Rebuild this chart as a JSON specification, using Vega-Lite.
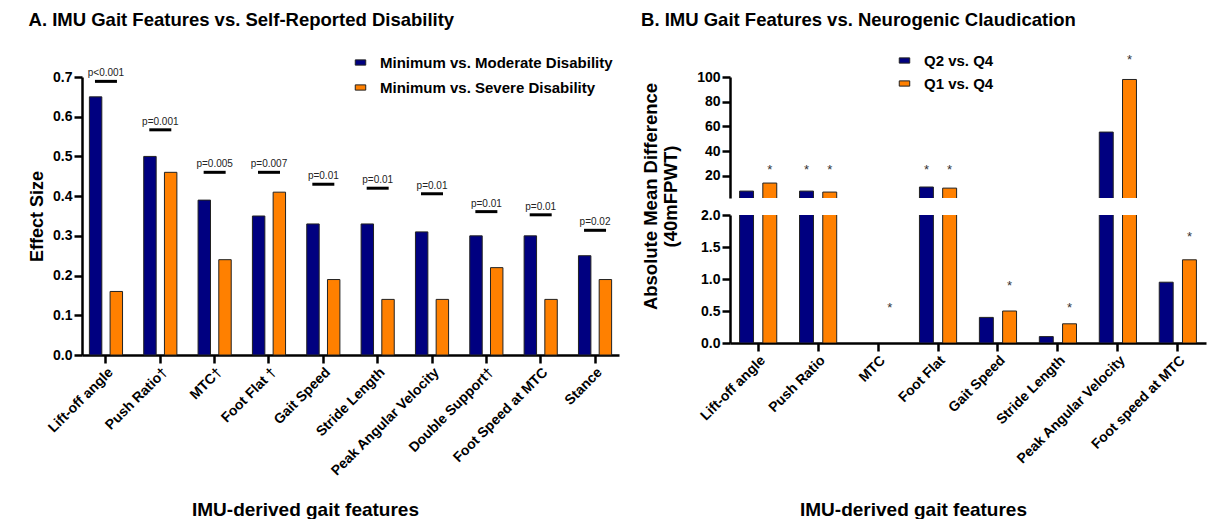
{
  "$schema": "https://vega.github.io/schema/vega-lite/v6.json",
  "background": "white",
  "padding": {"left": 28, "top": 10, "right": 5, "bottom": 0},
  "spacing": 22,
  "resolve": {"scale": {"x": "independent", "y": "independent", "color": "independent", "xOffset": "independent"}, "legend": {"color": "independent"}},
  "datasets": {
    "a": [
      {"feature": "Lift-off angle", "cmp": "Minimum vs. Moderate Disability", "v": 0.65},
      {"feature": "Lift-off angle", "cmp": "Minimum vs. Severe Disability", "v": 0.16},
      {"feature": "Push Ratio†", "cmp": "Minimum vs. Moderate Disability", "v": 0.50},
      {"feature": "Push Ratio†", "cmp": "Minimum vs. Severe Disability", "v": 0.46},
      {"feature": "MTC†", "cmp": "Minimum vs. Moderate Disability", "v": 0.39},
      {"feature": "MTC†", "cmp": "Minimum vs. Severe Disability", "v": 0.24},
      {"feature": "Foot Flat †", "cmp": "Minimum vs. Moderate Disability", "v": 0.35},
      {"feature": "Foot Flat †", "cmp": "Minimum vs. Severe Disability", "v": 0.41},
      {"feature": "Gait Speed", "cmp": "Minimum vs. Moderate Disability", "v": 0.33},
      {"feature": "Gait Speed", "cmp": "Minimum vs. Severe Disability", "v": 0.19},
      {"feature": "Stride Length", "cmp": "Minimum vs. Moderate Disability", "v": 0.33},
      {"feature": "Stride Length", "cmp": "Minimum vs. Severe Disability", "v": 0.14},
      {"feature": "Peak Angular Velocity", "cmp": "Minimum vs. Moderate Disability", "v": 0.31},
      {"feature": "Peak Angular Velocity", "cmp": "Minimum vs. Severe Disability", "v": 0.14},
      {"feature": "Double Support†", "cmp": "Minimum vs. Moderate Disability", "v": 0.30},
      {"feature": "Double Support†", "cmp": "Minimum vs. Severe Disability", "v": 0.22},
      {"feature": "Foot Speed at MTC", "cmp": "Minimum vs. Moderate Disability", "v": 0.30},
      {"feature": "Foot Speed at MTC", "cmp": "Minimum vs. Severe Disability", "v": 0.14},
      {"feature": "Stance", "cmp": "Minimum vs. Moderate Disability", "v": 0.25},
      {"feature": "Stance", "cmp": "Minimum vs. Severe Disability", "v": 0.19}
    ],
    "ap": [
      {"feature": "Lift-off angle", "p": "p<0.001", "v": 0.689},
      {"feature": "Push Ratio†", "p": "p=0.001", "v": 0.567},
      {"feature": "MTC†", "p": "p=0.005", "v": 0.46},
      {"feature": "Foot Flat †", "p": "p=0.007", "v": 0.46},
      {"feature": "Gait Speed", "p": "p=0.01", "v": 0.43},
      {"feature": "Stride Length", "p": "p=0.01", "v": 0.42},
      {"feature": "Peak Angular Velocity", "p": "p=0.01", "v": 0.406},
      {"feature": "Double Support†", "p": "p=0.01", "v": 0.361},
      {"feature": "Foot Speed at MTC", "p": "p=0.01", "v": 0.353},
      {"feature": "Stance", "p": "p=0.02", "v": 0.314}
    ],
    "b": [
      {"feature": "Lift-off angle", "cmp": "Q2 vs. Q4", "v": 7.6},
      {"feature": "Lift-off angle", "cmp": "Q1 vs. Q4", "v": 14.1},
      {"feature": "Push Ratio", "cmp": "Q2 vs. Q4", "v": 7.6},
      {"feature": "Push Ratio", "cmp": "Q1 vs. Q4", "v": 6.8},
      {"feature": "Foot Flat", "cmp": "Q2 vs. Q4", "v": 10.9},
      {"feature": "Foot Flat", "cmp": "Q1 vs. Q4", "v": 10.0},
      {"feature": "Gait Speed", "cmp": "Q2 vs. Q4", "v": 0.4},
      {"feature": "Gait Speed", "cmp": "Q1 vs. Q4", "v": 0.5},
      {"feature": "Stride Length", "cmp": "Q2 vs. Q4", "v": 0.1},
      {"feature": "Stride Length", "cmp": "Q1 vs. Q4", "v": 0.3},
      {"feature": "Peak Angular Velocity", "cmp": "Q2 vs. Q4", "v": 55.4},
      {"feature": "Peak Angular Velocity", "cmp": "Q1 vs. Q4", "v": 98},
      {"feature": "Foot speed at MTC", "cmp": "Q2 vs. Q4", "v": 0.95},
      {"feature": "Foot speed at MTC", "cmp": "Q1 vs. Q4", "v": 1.3}
    ],
    "bs": [
      {"feature": "Lift-off angle", "cmp": "Q1 vs. Q4", "v": 27, "seg": "upper"},
      {"feature": "Push Ratio", "cmp": "Q2 vs. Q4", "v": 27, "seg": "upper"},
      {"feature": "Push Ratio", "cmp": "Q1 vs. Q4", "v": 27, "seg": "upper"},
      {"feature": "Foot Flat", "cmp": "Q2 vs. Q4", "v": 27, "seg": "upper"},
      {"feature": "Foot Flat", "cmp": "Q1 vs. Q4", "v": 27, "seg": "upper"},
      {"feature": "Peak Angular Velocity", "cmp": "Q1 vs. Q4", "v": 116, "seg": "upper"},
      {"feature": "MTC", "cmp": "Q1 vs. Q4", "v": 0.6, "seg": "lower"},
      {"feature": "Gait Speed", "cmp": "Q1 vs. Q4", "v": 0.93, "seg": "lower"},
      {"feature": "Stride Length", "cmp": "Q1 vs. Q4", "v": 0.6, "seg": "lower"},
      {"feature": "Foot speed at MTC", "cmp": "Q1 vs. Q4", "v": 1.7, "seg": "lower"}
    ]
  },
  "hconcat": [
    {
      "title": {"text": "A. IMU Gait Features vs. Self-Reported Disability", "offset": 26},
      "width": 537,
      "height": 278,
      "layer": [
        {
          "data": {"name": "a"},
          "mark": {"type": "bar", "stroke": "#222", "strokeWidth": 1},
          "encoding": {
            "x": {"field": "feature", "type": "nominal",
              "scale": {"domain": ["Lift-off angle", "Push Ratio†", "MTC†", "Foot Flat †", "Gait Speed", "Stride Length", "Peak Angular Velocity", "Double Support†", "Foot Speed at MTC", "Stance"], "paddingInner": 0.39, "paddingOuter": 0.136},
              "axis": {"title": "IMU-derived gait features", "labelAngle": -45, "titleX": 223, "titleY": 145, "titleBaseline": "top", "titleFontSize": 19}},
            "xOffset": {"field": "cmp", "type": "nominal", "scale": {"domain": ["Minimum vs. Moderate Disability", "Minimum vs. Severe Disability"], "paddingInner": 0.4}},
            "y": {"field": "v", "type": "quantitative", "scale": {"domain": [0, 0.7], "nice": false},
              "axis": {"title": "Effect Size", "values": [0, 0.1, 0.2, 0.3, 0.4, 0.5, 0.6, 0.7], "tickCount": 20, "format": ".1f", "titlePadding": 6, "titleFontSize": 18}},
            "color": {"field": "cmp", "type": "nominal",
              "scale": {"domain": ["Minimum vs. Moderate Disability", "Minimum vs. Severe Disability"], "range": ["#000080", "#FF8000"]},
              "legend": {"title": null, "orient": "none", "legendX": 271, "legendY": -22, "rowPadding": 9}}
          }
        },
        {
          "data": {"name": "ap"},
          "mark": {"type": "tick", "thickness": 3, "size": 22, "color": "black", "opacity": 1},
          "encoding": {
            "x": {"field": "feature", "type": "nominal"},
            "y": {"field": "v", "type": "quantitative"}
          }
        },
        {
          "data": {"name": "ap"},
          "mark": {"type": "text", "fontSize": 10, "baseline": "bottom", "dy": -3, "color": "#222"},
          "encoding": {
            "x": {"field": "feature", "type": "nominal"},
            "y": {"field": "v", "type": "quantitative"},
            "text": {"field": "p"}
          }
        }
      ]
    },
    {
      "title": {"text": "B. IMU Gait Features vs. Neurogenic Claudication", "offset": 24},
      "spacing": 17,
      "bounds": "flush",
      "resolve": {"scale": {"y": "independent", "color": "independent"}, "legend": {"color": "independent"}},
      "vconcat": [
        {
          "width": 476,
          "height": 121,
          "layer": [
            {
              "data": {"name": "b"},
              "transform": [{"filter": "datum.v > 2"}],
              "mark": {"type": "bar", "stroke": "#222", "strokeWidth": 1, "clip": true},
              "encoding": {
                "x": {"field": "feature", "type": "nominal",
                  "scale": {"domain": ["Lift-off angle", "Push Ratio", "MTC", "Foot Flat", "Gait Speed", "Stride Length", "Peak Angular Velocity", "Foot speed at MTC"], "paddingInner": 0.38, "paddingOuter": 0.16},
                  "axis": null},
                "xOffset": {"field": "cmp", "type": "nominal", "scale": {"domain": ["Q2 vs. Q4", "Q1 vs. Q4"], "paddingInner": 0.4}},
                "y": {"field": "v", "type": "quantitative", "scale": {"domain": [2, 100], "nice": false},
                  "axis": {"title": null, "values": [20, 40, 60, 80, 100], "tickCount": 20}},
                "color": {"field": "cmp", "type": "nominal",
                  "scale": {"domain": ["Q2 vs. Q4", "Q1 vs. Q4"], "range": ["#000080", "#FF8000"]},
                  "legend": {"title": null, "orient": "none", "legendX": 167, "legendY": -24, "rowPadding": 7}}
              }
            },
            {
              "data": {"name": "bs"},
              "transform": [{"filter": "datum.seg == 'upper'"}],
              "mark": {"type": "text", "text": "*", "fontSize": 13, "baseline": "alphabetic", "dy": 7, "color": "#333"},
              "encoding": {
                "x": {"field": "feature", "type": "nominal"},
                "xOffset": {"field": "cmp", "type": "nominal"},
                "y": {"field": "v", "type": "quantitative"}
              }
            }
          ]
        },
        {
          "width": 476,
          "height": 128,
          "layer": [
            {
              "data": {"name": "b"},
              "mark": {"type": "bar", "stroke": "#222", "strokeWidth": 1, "clip": true},
              "encoding": {
                "x": {"field": "feature", "type": "nominal",
                  "scale": {"domain": ["Lift-off angle", "Push Ratio", "MTC", "Foot Flat", "Gait Speed", "Stride Length", "Peak Angular Velocity", "Foot speed at MTC"], "paddingInner": 0.38, "paddingOuter": 0.16},
                  "axis": {"title": "IMU-derived gait features", "labelAngle": -45, "titleX": 183, "titleY": 157, "titleBaseline": "top", "titleFontSize": 19}},
                "xOffset": {"field": "cmp", "type": "nominal", "scale": {"domain": ["Q2 vs. Q4", "Q1 vs. Q4"], "paddingInner": 0.4}},
                "y": {"field": "v", "type": "quantitative", "scale": {"domain": [0, 2], "nice": false},
                  "axis": {"title": ["Absolute Mean Difference", "(40mFPWT)"], "values": [0, 0.5, 1, 1.5, 2], "tickCount": 20, "format": ".1f", "titleY": -19, "titlePadding": 20, "titleFontSize": 18.5}},
                "color": {"field": "cmp", "type": "nominal",
                  "scale": {"domain": ["Q2 vs. Q4", "Q1 vs. Q4"], "range": ["#000080", "#FF8000"]},
                  "legend": null}
              }
            },
            {
              "data": {"name": "bs"},
              "transform": [{"filter": "datum.seg == 'lower'"}],
              "mark": {"type": "text", "text": "*", "fontSize": 13, "baseline": "alphabetic", "dy": 7, "color": "#333"},
              "encoding": {
                "x": {"field": "feature", "type": "nominal"},
                "xOffset": {"field": "cmp", "type": "nominal"},
                "y": {"field": "v", "type": "quantitative"}
              }
            }
          ]
        }
      ]
    }
  ],
  "config": {
    "font": "Liberation Sans",
    "view": {"stroke": null},
    "title": {"font": "Liberation Sans", "fontSize": 18.5, "fontWeight": "bold", "color": "black", "anchor": "start", "frame": "bounds"},
    "axis": {"grid": false, "domainColor": "black", "domainWidth": 2.5, "tickColor": "black", "tickWidth": 2.5, "tickSize": 8, "labelOverlap": false,
      "labelFont": "Liberation Sans", "labelFontWeight": "bold", "labelFontSize": 14, "labelColor": "black", "labelPadding": 2,
      "titleFont": "Liberation Sans", "titleFontSize": 16, "titleFontWeight": "bold", "titleColor": "black"},
    "legend": {"padding": 0, "symbolType": "M-1,-0.5H1V0.5H-1Z", "symbolSize": 110, "symbolStrokeColor": "#222", "symbolStrokeWidth": 1, "symbolOpacity": 1, "labelLimit": 400,
      "labelFont": "Liberation Sans", "labelFontSize": 15, "labelFontWeight": "bold", "labelColor": "black", "labelOffset": 12, "rowPadding": 10}
  }
}
